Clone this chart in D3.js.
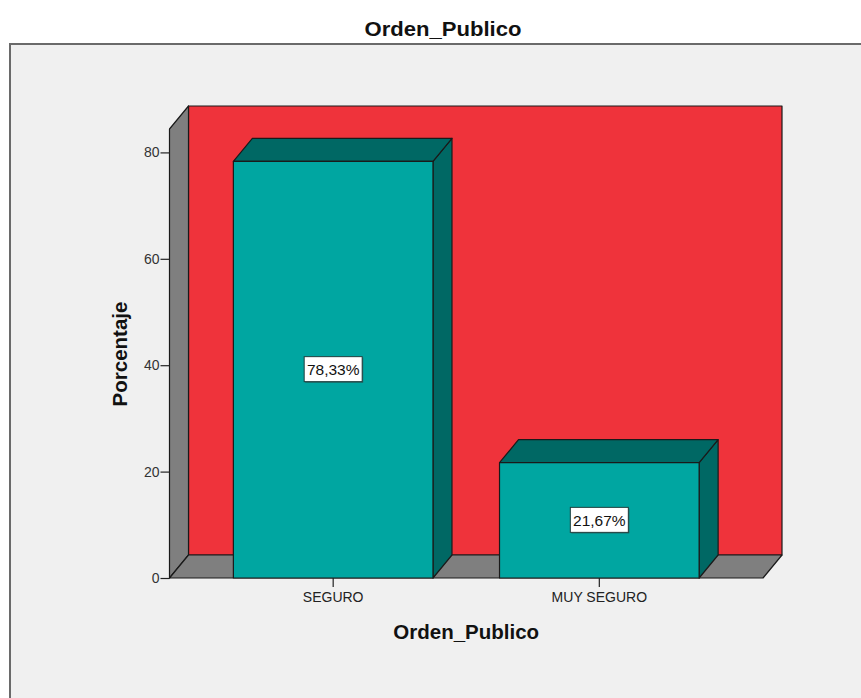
<!DOCTYPE html>
<html>
<head>
<meta charset="utf-8">
<script src="https://cdn.jsdelivr.net/npm/d3@7"></script>
<style>
  body { margin: 0; background: #fff; }
  text { font-family: "Liberation Sans", Arial, sans-serif; }
</style>
</head>
<body>
<div class="chart"></div>
<script>
const categories = ['SEGURO', 'MUY SEGURO'];
const percents = [78.33, 21.67];
const labels = ['78,33%', '21,67%'];
const yTicks = [0, 20, 40, 60, 80];
const yMax = 84.4;

const W = 861, H = 698;
const depth = { dx: 19, dy: -23 };

const svg = d3.select('div.chart').append('svg')
    .attr('width', W)
    .attr('height', H);

// frame
svg.append('rect')
    .attr('x', 10).attr('y', 44)
    .attr('width', 900).attr('height', 700)
    .attr('fill', '#f0f0f0')
    .attr('stroke', '#6a6a6a')
    .attr('stroke-width', 2);

svg.append('text')
    .attr('x', 443).attr('y', 36)
    .attr('text-anchor', 'middle')
    .attr('font-size', 21).attr('font-weight', 'bold')
    .attr('fill', '#111')
    .attr('textLength', 157).attr('lengthAdjust', 'spacingAndGlyphs')
    .text('Orden_Publico');

var x = d3.scaleBand()
    .domain(categories)
    .range([169.5, 763])
    .paddingInner(0.25)
    .paddingOuter(0.24);

var y = d3.scaleLinear()
    .domain([0, yMax])
    .range([578, 129]);

const [x0, x1] = x.range();
const y0 = y(0), yTop = y(yMax);
const dx = depth.dx, dy = depth.dy;
const line = pts => 'M' + pts.map(p => p.join(',')).join('L') + 'Z';

const g = svg.append('g')
    .attr('stroke', '#1a1a1a')
    .attr('stroke-width', 1.2)
    .attr('stroke-linejoin', 'round');

// back wall
g.append('path')
    .attr('d', line([[x0 + dx, yTop + dy], [x1 + dx, yTop + dy], [x1 + dx, y0 + dy], [x0 + dx, y0 + dy]]))
    .attr('fill', '#ef333b');
// left wall
g.append('path')
    .attr('d', line([[x0, y0], [x0, yTop], [x0 + dx, yTop + dy], [x0 + dx, y0 + dy]]))
    .attr('fill', '#7f7f7f');
// floor
g.append('path')
    .attr('d', line([[x0, y0], [x0 + dx, y0 + dy], [x1 + dx, y0 + dy], [x1, y0]]))
    .attr('fill', '#7f7f7f');

const bars = g.selectAll('g.bar')
    .data(categories.map((c, i) => ({ cat: c, v: percents[i], label: labels[i] })))
    .enter().append('g').attr('class', 'bar');

// side
bars.append('path')
    .attr('d', d => {
        const r = x(d.cat) + x.bandwidth(), t = y(d.v);
        return line([[r, t], [r + dx, t + dy], [r + dx, y0 + dy], [r, y0]]);
    })
    .attr('fill', '#006864');
// top
bars.append('path')
    .attr('d', d => {
        const l = x(d.cat), r = l + x.bandwidth(), t = y(d.v);
        return line([[l, t], [l + dx, t + dy], [r + dx, t + dy], [r, t]]);
    })
    .attr('fill', '#006864');
// front
bars.append('rect')
    .attr('x', d => x(d.cat))
    .attr('y', d => y(d.v))
    .attr('width', x.bandwidth())
    .attr('height', d => y0 - y(d.v))
    .attr('fill', '#00a6a1');

// axes
const yAxis = svg.append('g')
    .attr('transform', `translate(${x0},0)`)
    .call(d3.axisLeft(y).tickValues(yTicks).tickSize(9).tickSizeOuter(0));
yAxis.select('.domain').remove();
yAxis.selectAll('text').attr('font-size', 14).attr('fill', '#333').attr('font-family', 'Liberation Sans, Arial, sans-serif').attr('x', -10);
yAxis.selectAll('line').attr('stroke', '#222').attr('stroke-width', 1.2);

const xAxis = svg.append('g')
    .attr('transform', `translate(0,${y0})`)
    .call(d3.axisBottom(x).tickSize(9).tickSizeOuter(0));
xAxis.select('.domain').remove();
xAxis.selectAll('text').attr('font-size', 14).attr('fill', '#222').attr('font-family', 'Liberation Sans, Arial, sans-serif').attr('y', 11).attr('dy', '0.9em');
xAxis.selectAll('line').attr('stroke', '#222').attr('stroke-width', 1.2);

// value labels
const lab = svg.selectAll('g.lab')
    .data(categories.map((c, i) => ({ cat: c, v: percents[i], label: labels[i] })))
    .enter().append('g')
    .attr('transform', d => `translate(${x(d.cat) + x.bandwidth() / 2},${(y(d.v) + y0) / 2})`);
lab.append('rect')
    .attr('x', -28).attr('y', -12).attr('width', 58).attr('height', 25)
    .attr('fill', '#225a58');
lab.append('rect')
    .attr('x', -29).attr('y', -13).attr('width', 58).attr('height', 25)
    .attr('fill', '#fff').attr('stroke', '#1f3f3e').attr('stroke-width', 1);
lab.append('text')
    .attr('text-anchor', 'middle').attr('y', 5.5)
    .attr('font-size', 15.5).attr('fill', '#111')
    .text(d => d.label);

// axis titles
svg.append('text')
    .attr('x', (x0 + x1) / 2).attr('y', 639)
    .attr('text-anchor', 'middle')
    .attr('font-size', 20.5).attr('font-weight', 'bold').attr('fill', '#111')
    .text('Orden_Publico');
svg.append('text')
    .attr('transform', 'translate(127,354) rotate(-90)')
    .attr('text-anchor', 'middle')
    .attr('font-size', 20.5).attr('font-weight', 'bold').attr('fill', '#111')
    .text('Porcentaje');
</script>
</body>
</html>
